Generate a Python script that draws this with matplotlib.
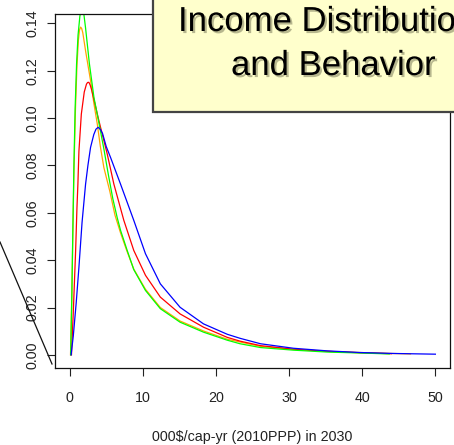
import matplotlib
matplotlib.use("Agg")
import matplotlib.pyplot as plt
import matplotlib.patheffects as pe
from matplotlib.patches import Rectangle
from matplotlib.lines import Line2D

# ── data ──────────────────────────────────────────────────────────────────────

orange_x = [0.12, 0.3, 0.45, 0.6, 0.8, 1.0, 1.2, 1.35, 1.5, 1.65, 1.8, 2.2, 2.86, 3.3,
            3.78, 4.2, 4.68, 5.5, 6.2, 6.96, 7.8, 8.77, 10.37, 12.4, 15.1, 18.3, 21.55,
            26.1, 30.6, 35.2, 39.7, 44.0, 46.6]
orange_y = [0.0, 0.025, 0.053, 0.079, 0.104, 0.122, 0.133, 0.1372, 0.1384, 0.1378, 0.136,
            0.128, 0.1158, 0.1065, 0.0975, 0.088, 0.0791, 0.069, 0.059, 0.0515, 0.0441,
            0.0362, 0.0277, 0.0200, 0.0143, 0.0101, 0.0066, 0.0036, 0.0023, 0.0015,
            0.0010, 0.0006, 0.0004]

red_x = [0.25, 0.5, 0.82, 1.0, 1.13, 1.27, 1.6, 2.0, 2.3, 2.45, 2.63, 2.8, 3.0, 3.5,
         4.0, 5.14, 6.05, 7.41, 8.77, 10.37, 12.4, 15.1, 18.3, 21.55, 23.3, 26.1, 30.6,
         35.2, 39.7, 44.0]
red_y = [0.0, 0.018, 0.044, 0.062, 0.0721, 0.086, 0.1017, 0.111, 0.1143, 0.1150, 0.1151,
         0.1140, 0.112, 0.1055, 0.0989, 0.0848, 0.0721, 0.0568, 0.0441, 0.0336, 0.0244,
         0.0173, 0.0117, 0.0074, 0.0058, 0.0039, 0.0024, 0.0015, 0.0009, 0.0005]

green_x = [0.14, 0.3, 0.45, 0.59, 0.75, 0.95, 1.15, 1.4, 1.55, 1.73, 1.9, 2.0, 2.18,
           2.7, 3.32, 4.0, 4.68, 5.3, 5.9, 6.5, 6.96, 7.87, 8.77, 10.37, 12.4, 15.1,
           18.3, 21.55, 23.3, 26.1, 30.6, 35.2, 39.7, 43.7]
green_y = [0.0, 0.025, 0.055, 0.0805, 0.104, 0.1229, 0.135, 0.143, 0.1455, 0.147, 0.145,
           0.1425, 0.138, 0.123, 0.1088, 0.098, 0.087, 0.076, 0.066, 0.058, 0.0526,
           0.0441, 0.0360, 0.0272, 0.0195, 0.0138, 0.0096, 0.0062, 0.0047, 0.0031,
           0.0020, 0.0012, 0.0008, 0.0004]

blue_x = [0.2, 0.5, 0.9, 1.27, 1.7, 2.18, 2.5, 2.86, 3.3, 3.6, 3.9, 4.2, 4.5, 5.0, 5.59,
          6.96, 8.77, 10.37, 12.4, 15.1, 18.3, 21.55, 23.3, 26.1, 30.6, 35.2, 39.7,
          44.3, 50.0]
blue_y = [0.0, 0.008, 0.022, 0.037, 0.056, 0.0721, 0.080, 0.0876, 0.093, 0.0953, 0.0961,
          0.0952, 0.0935, 0.088, 0.0834, 0.0721, 0.0568, 0.0427, 0.0300, 0.0201, 0.0131,
          0.0087, 0.0070, 0.0047, 0.0028, 0.0017, 0.0010, 0.0006, 0.0003]

x_ticks = [0, 10, 20, 30, 40, 50]
y_ticks = [0.00, 0.02, 0.04, 0.06, 0.08, 0.10, 0.12, 0.14]
x_label = "000$/cap-yr (2010PPP) in 2030"
title_lines = ["Income Distribution", "and Behavior"]

# ── figure ────────────────────────────────────────────────────────────────────

plt.rcParams["font.family"] = ["Liberation Sans", "DejaVu Sans"]

W, H = 454, 445
fig = plt.figure(figsize=(W / 100, H / 100), dpi=100)
ax = fig.add_axes([55 / W, 1 - 368 / H, 395 / W, 354 / H])

ax.plot(orange_x, orange_y, color="#FFA500", lw=0.9)
ax.plot(red_x, red_y, color="#FF0000", lw=0.9)
ax.plot(green_x, green_y, color="#00FF00", lw=0.9)
ax.plot(blue_x, blue_y, color="#0000FF", lw=0.9)

# R style limits: 4% padding, y range taken from the first curve
ymax = max(orange_y)
ax.set_xlim(-2, 52)
ax.set_ylim(-0.04 * ymax, 1.04 * ymax)

ax.set_xticks(x_ticks)
ax.set_xticklabels([str(t) for t in x_ticks])
ax.set_yticks(y_ticks)
ax.set_yticklabels([f"{t:.2f}" for t in y_ticks], rotation=90, va="center")
ax.tick_params(direction="out", length=6, width=0.8, labelsize=10.3,
               colors="#222222")
ax.tick_params(axis="x", pad=10.5)
ax.tick_params(axis="y", pad=5.5)
for sp in ax.spines.values():
    sp.set_linewidth(0.9)
    sp.set_color("#111111")
ax.set_xlabel(x_label, fontsize=10.3, color="#222222", labelpad=18)

# callout line on the left
fig.add_artist(Line2D([0, 52 / W], [1 - 242 / H, 1 - 364 / H],
                      color="#111111", lw=0.9))

# yellow title box over the top right corner
fig.add_artist(Rectangle((153 / W, 1 - 112 / H), 1.0, 1.0,
                         facecolor="#FFFFCC", edgecolor="#444444", lw=1.6,
                         zorder=5))
shadow = [pe.withSimplePatchShadow(offset=(1.5, -1.5), shadow_rgbFace="#888866",
                                   alpha=0.6)]
fig.text(178 / W, 1 - 31 / H, title_lines[0], fontsize=25, ha="left",
         va="baseline", color="black", zorder=6, path_effects=shadow)
fig.text(231 / W, 1 - 75 / H, title_lines[1], fontsize=25, ha="left",
         va="baseline", color="black", zorder=6, path_effects=shadow)

fig.savefig("out.png", dpi=100)
